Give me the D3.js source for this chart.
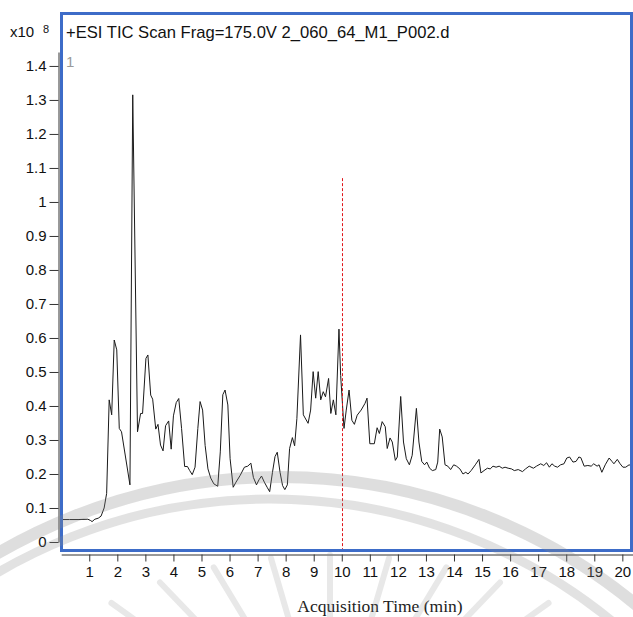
<!DOCTYPE html>
<html>
<head>
<meta charset="utf-8">
<script src="https://cdn.jsdelivr.net/npm/d3@7"></script>
<style>
  body { margin: 0; background: #fff; }
  svg { display: block; }
</style>
</head>
<body>
<script>
// TIC chromatogram, intensity in units of 1e8 counts
var times = [0.00, 0.30, 0.60, 0.95, 1.05, 1.10, 1.20, 1.32, 1.42, 1.53, 1.62, 1.71, 1.80, 1.89, 1.98,
  2.07, 2.15, 2.45, 2.55, 2.72, 2.83, 2.90, 3.02, 3.09, 3.19, 3.26, 3.37, 3.45, 3.54, 3.63, 3.72, 3.83,
  3.92, 4.00, 4.10, 4.19, 4.29, 4.40, 4.50, 4.58, 4.67, 4.77, 4.87, 4.95, 5.04, 5.13, 5.23, 5.33, 5.44,
  5.58, 5.67, 5.76, 5.84, 5.94, 6.02, 6.13, 6.23, 6.38, 6.53, 6.65, 6.76, 6.85, 6.96, 7.05, 7.14, 7.24,
  7.34, 7.43, 7.53, 7.62, 7.70, 7.80, 7.89, 7.97, 8.06, 8.14, 8.24, 8.32, 8.40, 8.53, 8.63, 8.80, 8.89,
  8.98, 9.07, 9.16, 9.25, 9.34, 9.42, 9.53, 9.61, 9.70, 9.79, 9.90, 9.96, 10.08, 10.16, 10.26, 10.36,
  10.45, 10.55, 10.69, 10.83, 10.90, 11.00, 11.16, 11.26, 11.34, 11.44, 11.55, 11.62, 11.72, 11.80,
  11.91, 11.98, 12.10, 12.20, 12.30, 12.41, 12.51, 12.66, 12.75, 12.85, 12.95, 13.03, 13.13, 13.23,
  13.35, 13.42, 13.49, 13.58, 13.68, 13.78, 13.88, 13.99, 14.09, 14.21, 14.32, 14.42, 14.50, 14.61,
  14.76, 14.89, 14.96, 15.07, 15.19, 15.29, 15.39, 15.50, 15.61, 15.72, 15.82, 15.93, 16.05, 16.15,
  16.29, 16.44, 16.55, 16.68, 16.83, 16.94, 17.09, 17.20, 17.30, 17.40, 17.49, 17.59, 17.69, 17.80,
  17.92, 18.02, 18.12, 18.24, 18.35, 18.45, 18.52, 18.64, 18.77, 18.89, 18.98, 19.10, 19.17, 19.27,
  19.39, 19.53, 19.63, 19.70, 19.82, 19.92, 20.02, 20.12, 20.24, 20.35];

var intensity = [0.066, 0.066, 0.066, 0.067, 0.063, 0.060, 0.067, 0.070, 0.076, 0.100, 0.143, 0.418, 0.374, 0.594, 0.565,
  0.334, 0.324, 0.168, 1.315, 0.324, 0.378, 0.378, 0.540, 0.550, 0.432, 0.420, 0.332, 0.346, 0.285, 0.268, 0.342, 0.356,
  0.273, 0.371, 0.410, 0.422, 0.334, 0.222, 0.222, 0.210, 0.198, 0.220, 0.334, 0.413, 0.388, 0.284, 0.215, 0.188, 0.171,
  0.164, 0.265, 0.433, 0.447, 0.403, 0.245, 0.161, 0.176, 0.196, 0.220, 0.223, 0.232, 0.190, 0.168, 0.183, 0.194, 0.176,
  0.161, 0.148, 0.205, 0.251, 0.264, 0.205, 0.166, 0.154, 0.168, 0.275, 0.307, 0.283, 0.363, 0.609, 0.374, 0.349, 0.388,
  0.501, 0.423, 0.501, 0.418, 0.442, 0.427, 0.481, 0.378, 0.418, 0.374, 0.626, 0.490, 0.334, 0.388, 0.447, 0.358,
  0.346, 0.373, 0.388, 0.408, 0.423, 0.289, 0.289, 0.336, 0.319, 0.354, 0.339, 0.275, 0.306, 0.294,
  0.240, 0.250, 0.428, 0.294, 0.245, 0.227, 0.255, 0.393, 0.294, 0.237, 0.227, 0.235, 0.217, 0.210,
  0.213, 0.235, 0.332, 0.309, 0.227, 0.223, 0.213, 0.227, 0.223, 0.215, 0.200, 0.205, 0.200, 0.210,
  0.227, 0.243, 0.203, 0.210, 0.217, 0.215, 0.223, 0.220, 0.223, 0.217, 0.220, 0.217, 0.215, 0.210,
  0.213, 0.207, 0.215, 0.223, 0.217, 0.223, 0.230, 0.225, 0.233, 0.220, 0.230, 0.223, 0.220, 0.227,
  0.230, 0.247, 0.250, 0.235, 0.237, 0.250, 0.248, 0.223, 0.225, 0.223, 0.230, 0.223, 0.227, 0.205,
  0.227, 0.247, 0.237, 0.230, 0.243, 0.230, 0.220, 0.220, 0.227, 0.223];

var xTicks = d3.range(1, 21);
var yTicks = d3.range(0, 15).map(function(i) { return i / 10; });
var markerTime = 10;
var markerTop = 1.07;
var titleText = "+ESI TIC Scan Frag=175.0V 2_060_64_M1_P002.d";

var svgWidth = 633;
var svgHeight = 617;

var svg = d3.select("body")
  .append("svg")
  .attr("width", svgWidth)
  .attr("height", svgHeight);

var x = d3.scaleLinear().domain([0, 20.38]).range([61.2, 633]);
var y = d3.scaleLinear().domain([0, 1.441]).range([542, 52]);

var data = times.map(function(t, i) { return { t: t, v: intensity[i] }; });

// clip for the trace
svg.append("clipPath").attr("id", "plotclip")
  .append("rect").attr("x", 62).attr("y", 15).attr("width", 568).attr("height", 534);

// trace
var line = d3.line()
  .x(function(d) { return x(d.t); })
  .y(function(d) { return y(d.v); });

svg.append("path")
  .datum(data)
  .attr("clip-path", "url(#plotclip)")
  .attr("fill", "none")
  .attr("stroke", "#1a1a1a")
  .attr("stroke-width", 1)
  .attr("d", line);

// red marker at 10 min
svg.append("line")
  .attr("x1", Math.round(x(markerTime)) + 0.5).attr("x2", Math.round(x(markerTime)) + 0.5)
  .attr("y1", y(markerTop)).attr("y2", 550)
  .attr("stroke", "#e0161b")
  .attr("stroke-width", 1)
  .attr("stroke-dasharray", "3,2");

// blue frame
svg.append("rect")
  .attr("x", 61.5).attr("y", 13.5)
  .attr("width", 570).attr("height", 537)
  .attr("fill", "none")
  .attr("stroke", "#3d6cc8")
  .attr("stroke-width", 3);

// axes
var leftAxis = d3.axisLeft(y)
  .tickValues(yTicks)
  .tickSize(9)
  .tickSizeOuter(0)
  .tickPadding(3)
  .tickFormat(function(d) { return String(+d.toFixed(1)); });

var bottomAxis = d3.axisBottom(x)
  .tickValues(xTicks)
  .tickSize(7)
  .tickSizeOuter(0)
  .tickPadding(5)
  .tickFormat(d3.format("d"));

var gy = svg.append("g")
  .attr("transform", "translate(58.5,0)")
  .call(leftAxis);

var gx = svg.append("g")
  .attr("transform", "translate(0,554.5)")
  .call(bottomAxis);

[gy, gx].forEach(function(g) {
  g.selectAll("path, line").attr("stroke", "#333");
  g.selectAll("text")
    .attr("fill", "#111")
    .style("font-family", "'Liberation Sans', Arial, sans-serif")
    .style("font-size", "15px");
});

// labels
svg.append("text")
  .attr("x", 10).attr("y", 37)
  .style("font-family", "'Liberation Sans', Arial, sans-serif")
  .style("font-size", "15px")
  .attr("fill", "#111")
  .text("x10");

svg.append("text")
  .attr("x", 43).attr("y", 33)
  .style("font-family", "'Liberation Sans', Arial, sans-serif")
  .style("font-size", "11px")
  .attr("fill", "#111")
  .text("8");

svg.append("text")
  .attr("x", 66).attr("y", 37.5)
  .style("font-family", "'Liberation Sans', Arial, sans-serif")
  .style("font-size", "16.6px")
  .attr("fill", "#111")
  .text(titleText);

svg.append("text")
  .attr("x", 66).attr("y", 67)
  .style("font-family", "'Liberation Sans', Arial, sans-serif")
  .style("font-size", "15px")
  .attr("fill", "#9a9a9a")
  .text("1");

svg.append("text")
  .attr("x", 380).attr("y", 612)
  .attr("text-anchor", "middle")
  .style("font-family", "'Liberation Serif', 'Times New Roman', serif")
  .style("font-size", "17.5px")
  .attr("fill", "#222")
  .text("Acquisition Time (min)");

// faint watermark (arcs and rays of a background logo)
var wm = svg.append("g").attr("fill", "none").attr("stroke", "#8a8a8a");

wm.append("circle")
  .attr("cx", 280).attr("cy", 1037).attr("r", 560)
  .attr("stroke-width", 12)
  .attr("opacity", 0.28);

wm.append("circle")
  .attr("cx", 270).attr("cy", 1039).attr("r", 540)
  .attr("stroke-width", 9)
  .attr("opacity", 0.25);

// rays: tips sit on an ellipse under the arcs
d3.range(-160, -15, 10).forEach(function(a) {
  var r = a * Math.PI / 180;
  var cx = 330, cy = 760;
  var tx = cx + 340 * Math.cos(r), ty = cy + 205 * Math.sin(r);
  wm.append("line")
    .attr("x1", tx).attr("y1", ty)
    .attr("x2", cx + (tx - cx) * 0.55).attr("y2", cy + (ty - cy) * 0.55)
    .attr("stroke-width", 6)
    .attr("stroke-linecap", "round")
    .attr("opacity", 0.2);
});
</script>
</body>
</html>
